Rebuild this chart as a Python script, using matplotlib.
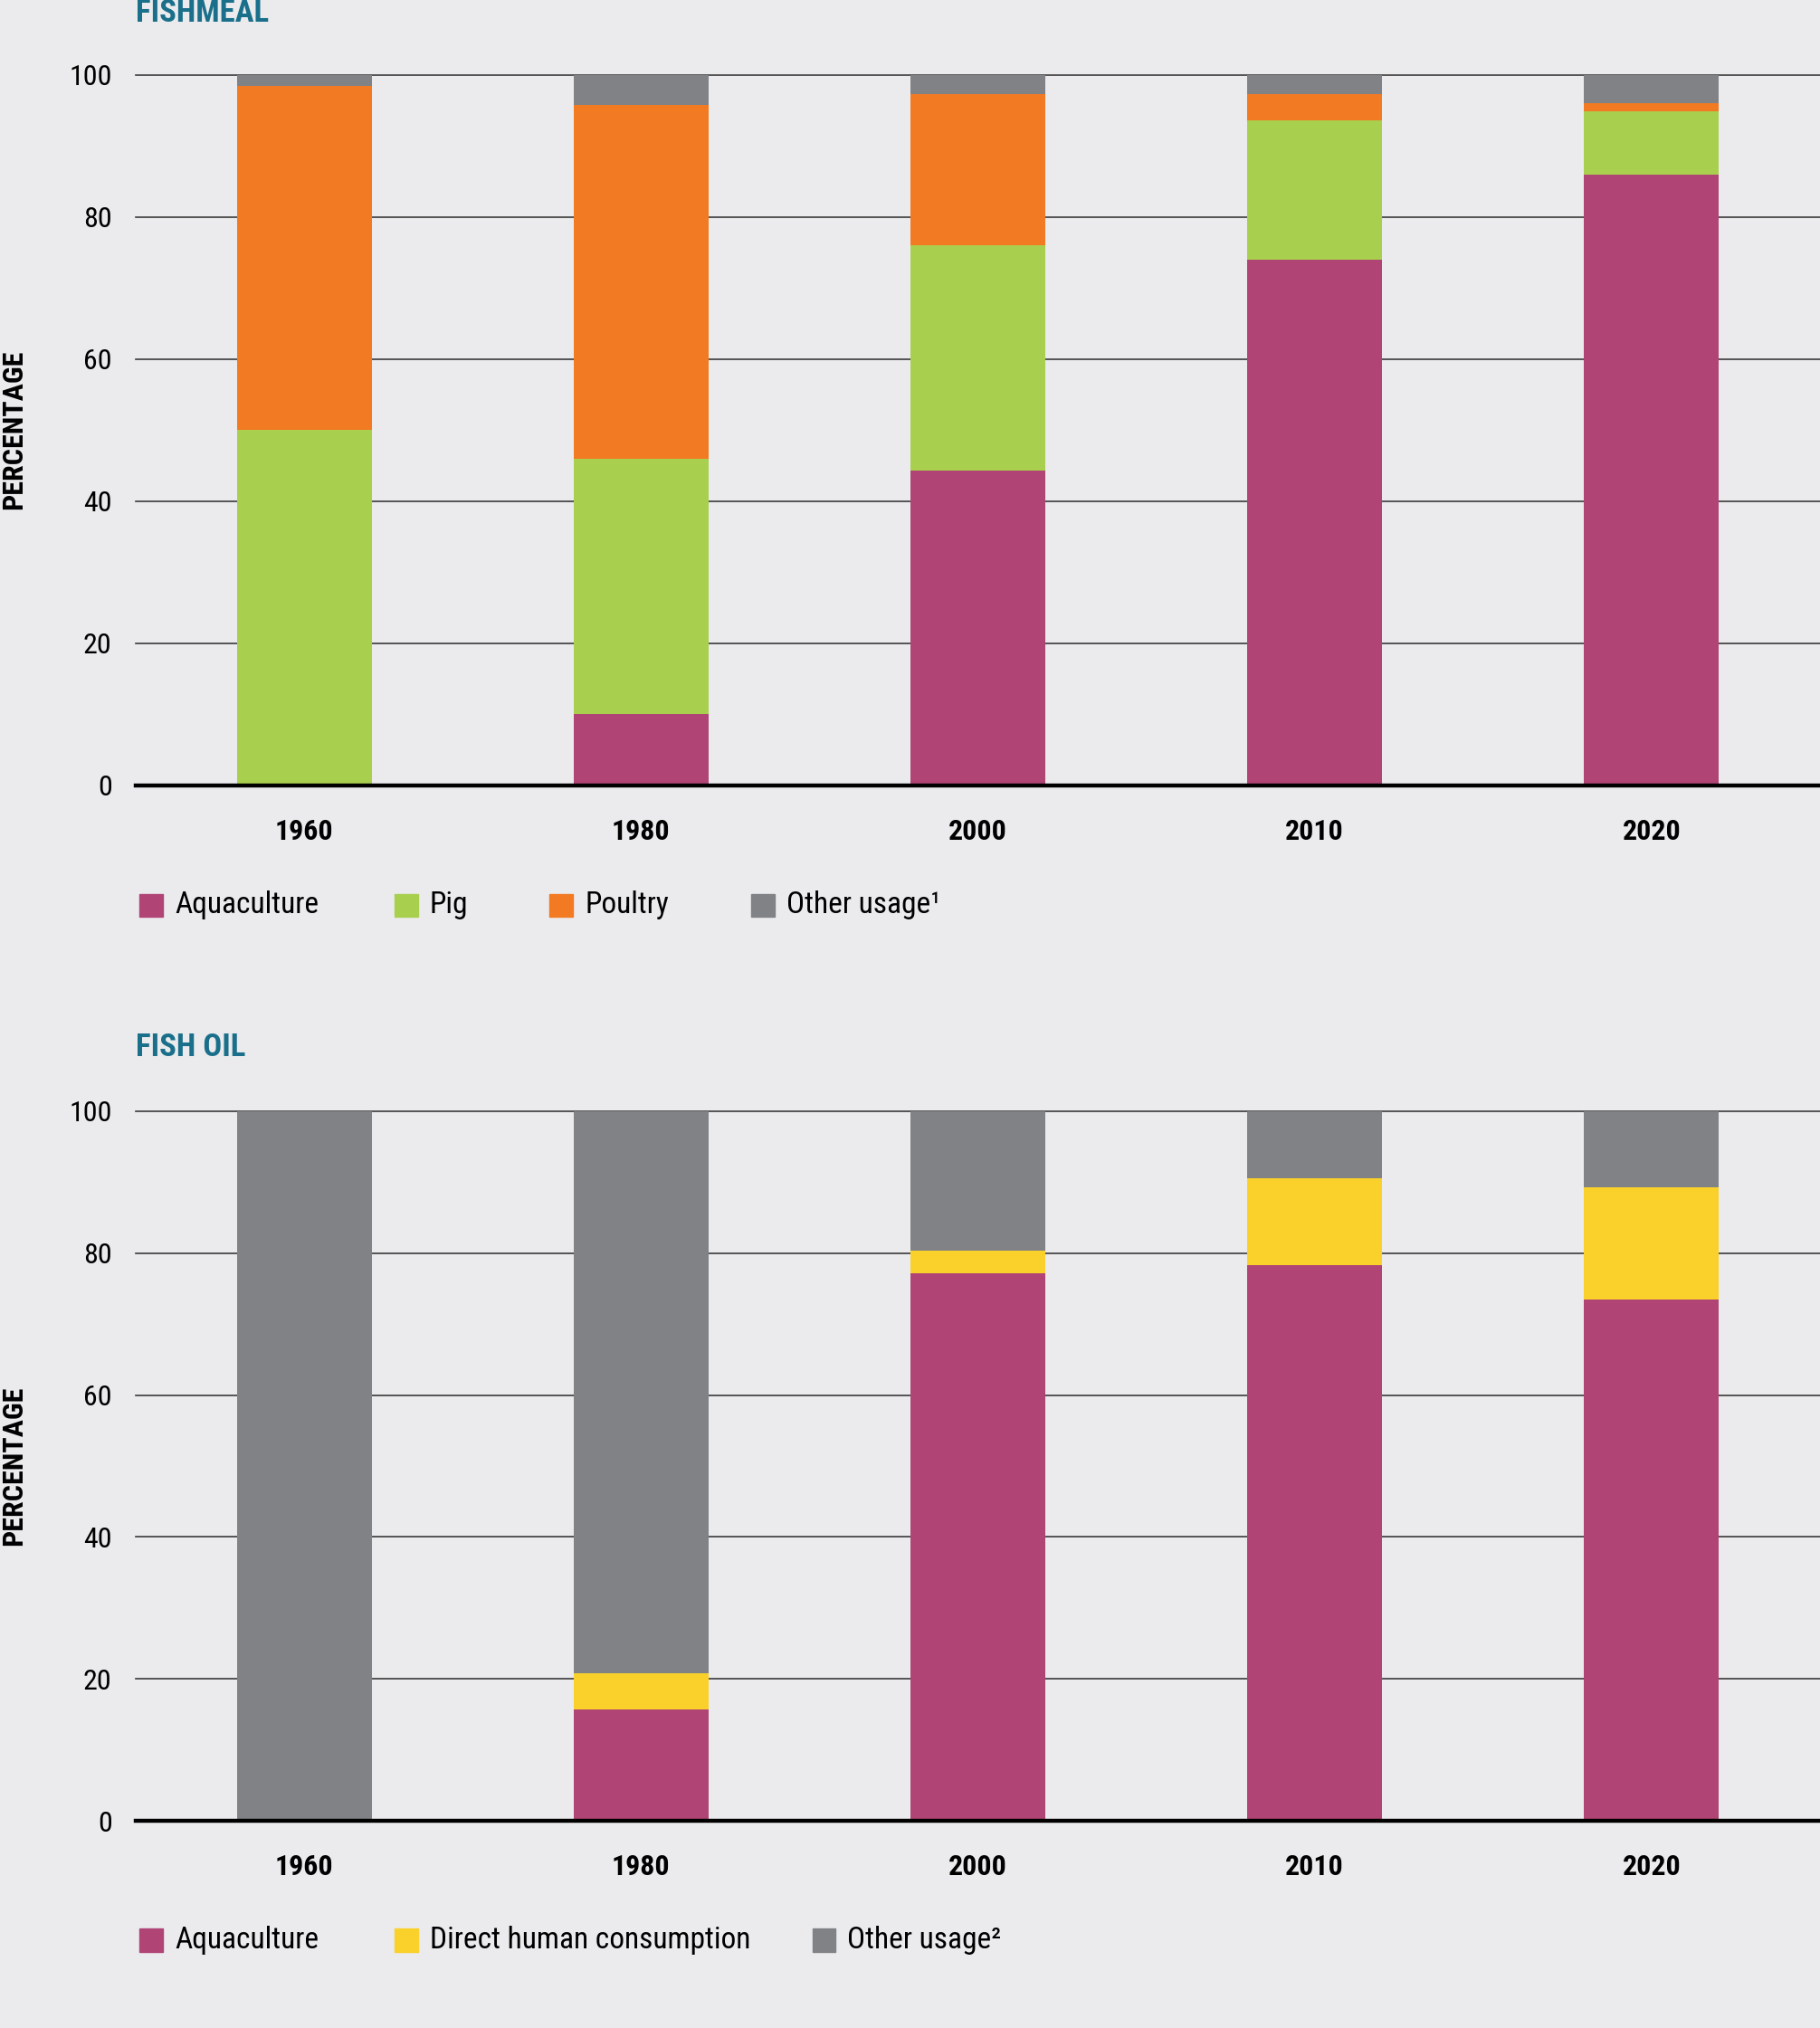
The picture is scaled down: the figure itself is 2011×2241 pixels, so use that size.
import matplotlib
matplotlib.use("Agg")
import matplotlib.pyplot as plt
from matplotlib import font_manager
from matplotlib.patches import Rectangle
import numpy as np

# data (percent shares)
years = ["1960", "1980", "2000", "2010", "2020"]

meal_aquaculture = [0.0, 10.0, 44.3, 74.0, 86.0]
meal_pig = [50.0, 36.0, 31.7, 19.6, 8.9]
meal_poultry = [48.4, 49.8, 21.3, 3.7, 1.1]
meal_other = [1.6, 4.2, 2.7, 2.7, 4.0]

oil_aquaculture = [0.0, 15.7, 77.2, 78.3, 73.4]
oil_human = [0.0, 5.1, 3.1, 12.2, 15.9]
oil_other = [100.0, 79.2, 19.7, 9.5, 10.7]

meal_labels = ["Aquaculture", "Pig", "Poultry", "Other usage\u00b9"]
oil_labels = ["Aquaculture", "Direct human consumption", "Other usage\u00b2"]

C_AQUA = "#B04575"
C_PIG = "#A8CF4E"
C_POULTRY = "#F27A23"
C_OTHER = "#808285"
C_HUMAN = "#F9D12A"
BG = "#EBEBEE"
TEAL = "#1A6F8A"

# pick a narrow face if one is around
fonts = font_manager.fontManager.ttflist
names = {f.name for f in fonts}
family, stretch = "DejaVu Sans", "normal"
for cand in ["Roboto Condensed", "Open Sans Condensed", "Liberation Sans Narrow",
             "Arial Narrow"]:
    if cand in names:
        family = cand
        break
else:
    for f in fonts:
        if f.stretch in ("condensed", "semi-condensed", "extra-condensed"):
            family, stretch = f.name, f.stretch
            break
plt.rcParams["font.family"] = [family, "DejaVu Sans"]
plt.rcParams["font.stretch"] = stretch

W, H = 2011, 2241
fig = plt.figure(figsize=(W / 100, H / 100), dpi=100, facecolor=BG)


def fy(y_disp):
    # reference-preview y (0..1568) -> figure fraction
    return 1 - y_disp / 1568


def fx(x_disp):
    return x_disp / 1407


def panel(top, bottom, series, colors):
    ax = fig.add_axes([fx(105), fy(bottom), 1 - fx(105), fy(top) - fy(bottom)])
    ax.set_facecolor(BG)
    x = np.arange(len(years))
    base = np.zeros(len(years))
    for vals, c in zip(series, colors):
        ax.bar(x, vals, width=0.4, bottom=base, color=c, zorder=3, linewidth=0)
        base = base + np.array(vals)
    ax.set_xlim(-0.5, len(years) - 0.5)
    ax.set_ylim(0, 100)
    ax.set_yticks([0, 20, 40, 60, 80, 100])
    for v in [20, 40, 60, 80, 100]:
        ax.axhline(v, color="#3a3a3a", lw=1.2, zorder=1, clip_on=False)
    ax.axhline(0, color="black", lw=3.2, zorder=4, clip_on=False)
    for s in ax.spines.values():
        s.set_visible(False)
    ax.tick_params(axis="both", length=0, labelsize=23)
    ax.tick_params(axis="y", pad=19)
    ax.tick_params(axis="x", pad=26)
    ax.set_xticks(x)
    ax.set_xticklabels(years, fontweight="bold")
    ax.set_ylabel("PERCENTAGE", fontsize=23, fontweight="bold")
    ax.yaxis.set_label_coords(-fx(84) / (1 - fx(105)), 0.5)
    return ax


def legend(y_disp, xs, labels, colors):
    for xd, lab, c in zip(xs, labels, colors):
        fig.patches.append(Rectangle((fx(xd), fy(y_disp + 9)), fx(18), 18 / 1568,
                                     transform=fig.transFigure, color=c))
        fig.text(fx(xd + 27), fy(y_disp), lab, fontsize=24, va="center", ha="left")


ax1 = panel(58, 607, [meal_aquaculture, meal_pig, meal_poultry, meal_other],
            [C_AQUA, C_PIG, C_POULTRY, C_OTHER])
fig.text(fx(105), fy(10), "FISHMEAL", color=TEAL, fontsize=25, fontweight="bold",
         va="center", ha="left")
legend(700, [108, 305, 425, 581], meal_labels, [C_AQUA, C_PIG, C_POULTRY, C_OTHER])

ax2 = panel(859, 1408, [oil_aquaculture, oil_human, oil_other],
            [C_AQUA, C_HUMAN, C_OTHER])
fig.text(fx(105), fy(810), "FISH OIL", color=TEAL, fontsize=25, fontweight="bold",
         va="center", ha="left")
legend(1500, [108, 305, 628], oil_labels, [C_AQUA, C_HUMAN, C_OTHER])

fig.savefig("out.png", dpi=100, facecolor=BG)
